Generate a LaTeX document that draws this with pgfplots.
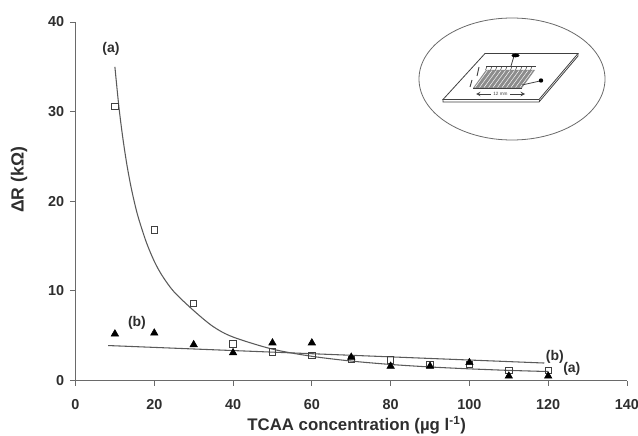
\documentclass[border=0pt]{standalone}
\usepackage{pgfplots}
\pgfplotsset{compat=1.18}
\usepackage{fontspec}
\setmainfont{Liberation Sans}
\definecolor{txt}{HTML}{2E2E2E}
\definecolor{axc}{HTML}{6A6A6A}
\begin{document}
\begin{tikzpicture}
\useasboundingbox (0pt,0pt) rectangle (478.5pt,-326.25pt);
\begin{axis}[
  at={(56.625pt,-285.375pt)},anchor=south west,
  scale only axis,width=413.6pt,height=268.9pt,
  xmin=0,xmax=140,ymin=0,ymax=40,
  axis x line=bottom,axis y line=left,
  axis line style={axc,line width=0.8pt,-},
  xtick={0,20,...,140},ytick={0,10,...,40},
  tick align=outside,major tick length=4pt,
  tick style={axc,line width=0.7pt},
  xtick pos=bottom,ytick pos=left,
  /pgf/number format/assume math mode=true,
  tick label style={font=\bfseries\fontsize{10.8}{12}\selectfont,text=txt},
  x tick label style={yshift=-7pt},
  y tick label style={xshift=-1pt},
  xlabel={\fontsize{12.6}{14}\selectfont\bfseries TCAA concentration (µg l\textsuperscript{-1})},
  xlabel style={at={(axis description cs:0.51,0)},anchor=north,yshift=-26.5pt,text=txt,inner sep=0pt},
  ylabel={\fontsize{13.2}{15}\selectfont\bfseries ΔR (kΩ)},
  ylabel style={at={(axis description cs:0,0.56)},anchor=south,yshift=36pt,text=txt,inner sep=0pt},
  clip=false,
]
% fitted curve (a)
\addplot[smooth,color=axc!85!black,line width=0.8pt,forget plot] coordinates {
 (10,35) (11,30.6) (12,27.1) (13,24.2) (14,21.8) (15,19.8) (16,18.1) (18,15.4) (20,13.3) (22,11.7)
 (25,9.9) (30,7.8) (35,6.0) (40,4.85) (50,3.5) (60,2.7) (70,2.17) (80,1.79)
 (90,1.51) (100,1.3) (110,1.13) (120,1.0)};
% fitted line (b)
\addplot[color=axc!85!black,line width=0.8pt,forget plot] coordinates {(8.3,3.9) (119,1.95)};
% series a
\addplot[only marks,mark=square,mark size=2.4pt,mark options={draw=black!75,line width=0.6pt,fill=white}] coordinates {
 (10,30.6) (20,16.8) (30,8.6) (40,4.1) (50,3.2) (60,2.8) (70,2.35) (80,2.3) (90,1.8) (100,1.8) (110,1.1) (120,1.1)};
% series b
\addplot[only marks,mark=triangle*,mark size=3.2pt,mark options={draw=black,fill=black}] coordinates {
 (10,5.2) (20,5.3) (30,4.0) (40,3.1) (50,4.2) (60,4.2) (70,2.6) (80,1.6) (90,1.6) (100,2.0) (110,0.5) (120,0.5)};
\node[font=\bfseries\fontsize{10.5}{12}\selectfont,text=txt] at (axis cs:9,37) {(a)};
\node[font=\bfseries\fontsize{10.5}{12}\selectfont,text=txt] at (axis cs:15.6,6.4) {(b)};
\node[font=\bfseries\fontsize{10.5}{12}\selectfont,text=txt] at (axis cs:121.7,2.6) {(b)};
\node[font=\bfseries\fontsize{10.5}{12}\selectfont,text=txt] at (axis cs:126,1.28) {(a)};
\end{axis}
% inset
\begin{scope}[x=0.75pt,y=-0.75pt]
\draw[axc,line width=0.6pt] (512,79) ellipse (93 and 61);
\begin{scope}[black!75,line width=0.6pt]
\draw (485,53.5) -- (578,53.5) -- (539,99.5) -- (443,99.5) -- cycle;
\draw (443,99.5) -- (443,102) -- (539,102) -- (578,56) -- (578,53.5);
\draw (539,99.5) -- (539,102);
\fill[black!45] (486,70) -- (535,70) -- (522,88) -- (473,88) -- cycle;
\foreach \i in {0,1,...,11} {\draw[white,line width=0.35pt] ({475+4.5*\i},87.5) -- ({487.5+4.5*\i},70.5);}
\draw (486,66.5) -- (536,66.5);
\draw (473,88.5) -- (522,88.5);
\foreach \i in {0,1,...,9} {\draw[line width=0.4pt] ({487+5*\i},66.5) -- ({485.5+5*\i},70);}
\draw (511,66) -- (514,56);
\fill[black] (515.5,55.5) ellipse (4 and 1.8);
\draw (522,85) -- (540,81);
\fill[black] (541,80.5) circle (2.2);
\draw[line width=0.5pt,<->,>=stealth] (476,94) -- (525,94);
\fill[white] (491,91) rectangle (510,97);
\node[font=\fontsize{3.5}{4}\selectfont,inner sep=0pt] at (500.5,94) {12 mm};
\draw[line width=0.7pt] (479,67) -- (477,76);
\draw[line width=0.7pt] (472,80) -- (470,87);
\end{scope}
\end{scope}
\end{tikzpicture}
\end{document}
